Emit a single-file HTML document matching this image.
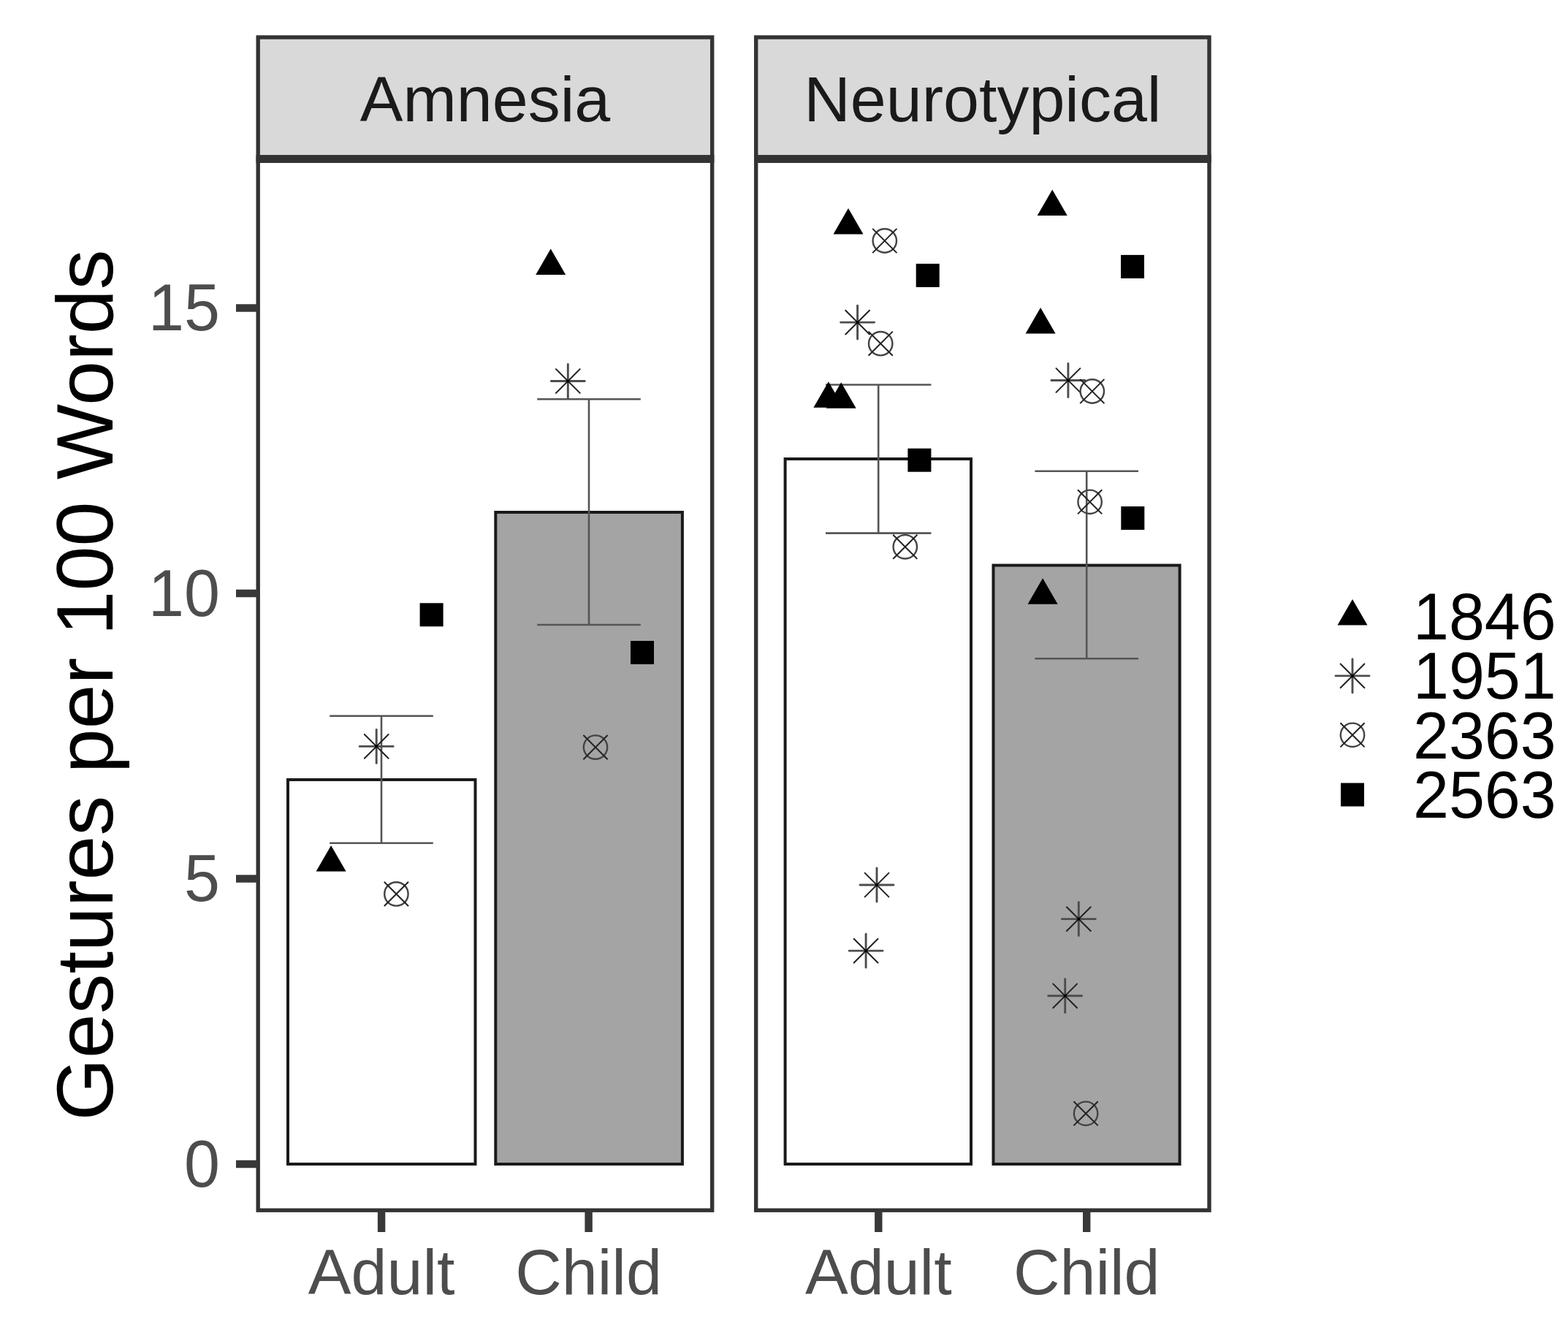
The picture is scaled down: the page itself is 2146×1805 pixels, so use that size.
<!DOCTYPE html>
<html><head><meta charset="utf-8"><title>Gestures per 100 Words</title>
<style>html,body{margin:0;padding:0;background:#fff;}svg{display:block;}</style></head>
<body>
<svg width="2146" height="1805" viewBox="0 0 2146 1805">
<rect width="2146" height="1805" fill="#fff"/>
<rect x="353.2" y="51.0" width="621.50" height="163.90" fill="#d9d9d9" stroke="#333" stroke-width="5.4"/>
<text x="663.95" y="166" font-family='"Liberation Sans", sans-serif' font-size="88" fill="#1a1a1a" text-anchor="middle">Amnesia</text>
<rect x="1034.7" y="51.0" width="620.30" height="163.90" fill="#d9d9d9" stroke="#333" stroke-width="5.4"/>
<text x="1344.85" y="166" font-family='"Liberation Sans", sans-serif' font-size="88" fill="#1a1a1a" text-anchor="middle">Neurotypical</text>
<rect x="353.2" y="220.2" width="621.50" height="1436.00" fill="#fff"/>
<rect x="1034.7" y="220.2" width="620.30" height="1436.00" fill="#fff"/>
<rect x="394.0" y="1067.0" width="256.50" height="526.00" fill="#fff" stroke="#1a1a1a" stroke-width="4.0"/>
<rect x="678.3" y="701.0" width="255.60" height="892.00" fill="#a4a4a4" stroke="#1a1a1a" stroke-width="4.0"/>
<rect x="1074.6" y="628.0" width="254.40" height="965.00" fill="#fff" stroke="#1a1a1a" stroke-width="4.0"/>
<rect x="1359.5" y="773.6" width="255.10" height="819.40" fill="#a4a4a4" stroke="#1a1a1a" stroke-width="4.0"/>
<path d="M451.20 979.8H592.80M522.0 979.8V1153.7M451.20 1153.7H592.80M735.20 546.2H876.80M806.0 546.2V855.0M735.20 855.0H876.80M1130.00 526.5H1274.40M1202.2 526.5V729.6M1130.00 729.6H1274.40M1416.40 644.7H1558.00M1487.2 644.7V901.2M1416.40 901.2H1558.00" fill="none" stroke="#555" stroke-width="2.6"/>
<g fill="#000"><polygon points="453.10,1157.03 473.60,1192.53 432.60,1192.53"/><polygon points="753.70,340.43 774.20,375.93 733.20,375.93"/><polygon points="1161.00,285.03 1181.50,320.53 1140.50,320.53"/><polygon points="1133.90,522.13 1154.40,557.63 1113.40,557.63"/><polygon points="1151.20,523.33 1171.70,558.83 1130.70,558.83"/><polygon points="1440.20,259.53 1460.70,295.03 1419.70,295.03"/><polygon points="1424.10,421.03 1444.60,456.53 1403.60,456.53"/><polygon points="1427.10,791.13 1447.60,826.63 1406.60,826.63"/><rect x="574.60" y="825.30" width="32.0" height="32.0"/><rect x="863.00" y="877.00" width="32.0" height="32.0"/><rect x="1253.70" y="360.90" width="32.0" height="32.0"/><rect x="1242.40" y="613.70" width="32.0" height="32.0"/><rect x="1534.00" y="348.90" width="32.0" height="32.0"/><rect x="1534.30" y="693.00" width="32.0" height="32.0"/></g>
<g fill="none" stroke="#222" stroke-width="2.0" stroke-linecap="round"><path stroke="#4d4d4d" stroke-width="2.9" d="M492.20 1021.40H538.20M515.20 998.40V1044.40"/><path d="M498.80 1005.00L531.60 1037.80M498.80 1037.80L531.60 1005.00"/><rect x="513.40" y="1019.60" width="3.6" height="3.6" fill="#000" stroke="none"/><path stroke="#4d4d4d" stroke-width="2.9" d="M754.30 521.50H800.30M777.30 498.50V544.50"/><path d="M760.90 505.10L793.70 537.90M760.90 537.90L793.70 505.10"/><rect x="775.50" y="519.70" width="3.6" height="3.6" fill="#000" stroke="none"/><path stroke="#4d4d4d" stroke-width="2.9" d="M1150.60 441.10H1196.60M1173.60 418.10V464.10"/><path d="M1157.20 424.70L1190.00 457.50M1157.20 457.50L1190.00 424.70"/><rect x="1171.80" y="439.30" width="3.6" height="3.6" fill="#000" stroke="none"/><path stroke="#4d4d4d" stroke-width="2.9" d="M1177.00 1211.00H1223.00M1200.00 1188.00V1234.00"/><path d="M1183.60 1194.60L1216.40 1227.40M1183.60 1227.40L1216.40 1194.60"/><rect x="1198.20" y="1209.20" width="3.6" height="3.6" fill="#000" stroke="none"/><path stroke="#4d4d4d" stroke-width="2.9" d="M1162.10 1301.10H1208.10M1185.10 1278.10V1324.10"/><path d="M1168.70 1284.70L1201.50 1317.50M1168.70 1317.50L1201.50 1284.70"/><rect x="1183.30" y="1299.30" width="3.6" height="3.6" fill="#000" stroke="none"/><path stroke="#4d4d4d" stroke-width="2.9" d="M1438.90 520.50H1484.90M1461.90 497.50V543.50"/><path d="M1445.50 504.10L1478.30 536.90M1445.50 536.90L1478.30 504.10"/><rect x="1460.10" y="518.70" width="3.6" height="3.6" fill="#000" stroke="none"/><path stroke="#4d4d4d" stroke-width="2.9" d="M1453.30 1257.60H1499.30M1476.30 1234.60V1280.60"/><path d="M1459.90 1241.20L1492.70 1274.00M1459.90 1274.00L1492.70 1241.20"/><rect x="1474.50" y="1255.80" width="3.6" height="3.6" fill="#000" stroke="none"/><path stroke="#4d4d4d" stroke-width="2.9" d="M1434.70 1362.80H1480.70M1457.70 1339.80V1385.80"/><path d="M1441.30 1346.40L1474.10 1379.20M1441.30 1379.20L1474.10 1346.40"/><rect x="1455.90" y="1361.00" width="3.6" height="3.6" fill="#000" stroke="none"/></g>
<g fill="none" stroke="#222" stroke-width="2.0"><circle cx="542.40" cy="1223.40" r="16.20" stroke="#444" stroke-width="2.4"/><path d="M525.80 1206.80L559.00 1240.00M525.80 1240.00L559.00 1206.80"/><circle cx="815.00" cy="1022.60" r="16.20" stroke="#444" stroke-width="2.4"/><path d="M798.40 1006.00L831.60 1039.20M798.40 1039.20L831.60 1006.00"/><circle cx="1210.80" cy="329.50" r="16.20" stroke="#444" stroke-width="2.4"/><path d="M1194.20 312.90L1227.40 346.10M1194.20 346.10L1227.40 312.90"/><circle cx="1205.20" cy="470.20" r="16.20" stroke="#444" stroke-width="2.4"/><path d="M1188.60 453.60L1221.80 486.80M1188.60 486.80L1221.80 453.60"/><circle cx="1238.80" cy="748.30" r="16.20" stroke="#444" stroke-width="2.4"/><path d="M1222.20 731.70L1255.40 764.90M1222.20 764.90L1255.40 731.70"/><circle cx="1494.80" cy="535.50" r="16.20" stroke="#444" stroke-width="2.4"/><path d="M1478.20 518.90L1511.40 552.10M1478.20 552.10L1511.40 518.90"/><circle cx="1491.60" cy="686.80" r="16.20" stroke="#444" stroke-width="2.4"/><path d="M1475.00 670.20L1508.20 703.40M1475.00 703.40L1508.20 670.20"/><circle cx="1486.10" cy="1523.80" r="16.20" stroke="#444" stroke-width="2.4"/><path d="M1469.50 1507.20L1502.70 1540.40M1469.50 1540.40L1502.70 1507.20"/></g>
<rect x="353.2" y="220.2" width="621.50" height="1436.00" fill="none" stroke="#333" stroke-width="5.4"/>
<rect x="350.50" y="212.20" width="626.90" height="10.70" fill="#333"/>
<rect x="1034.7" y="220.2" width="620.30" height="1436.00" fill="none" stroke="#333" stroke-width="5.4"/>
<rect x="1032.00" y="212.20" width="625.70" height="10.70" fill="#333"/>
<text transform="translate(301,1623.80) scale(1,1.04)" font-family='"Liberation Sans", sans-serif' font-size="88" fill="#4d4d4d" text-anchor="end">0</text>
<text transform="translate(301,1233.30) scale(1,1.04)" font-family='"Liberation Sans", sans-serif' font-size="88" fill="#4d4d4d" text-anchor="end">5</text>
<text transform="translate(301,842.80) scale(1,1.04)" font-family='"Liberation Sans", sans-serif' font-size="88" fill="#4d4d4d" text-anchor="end">10</text>
<text transform="translate(301,452.30) scale(1,1.04)" font-family='"Liberation Sans", sans-serif' font-size="88" fill="#4d4d4d" text-anchor="end">15</text>
<path d="M323 1593.00H353.20M323 1202.50H353.20M323 812.00H353.20M323 421.50H353.20M522.1 1656.20V1686M805.6 1656.20V1686M1202.3 1656.20V1686M1487.2 1656.20V1686" stroke="#383838" stroke-width="10.4" fill="none"/>
<text x="522.1" y="1770.6" font-family='"Liberation Sans", sans-serif' font-size="88" fill="#4d4d4d" text-anchor="middle">Adult</text>
<text x="805.6" y="1770.6" font-family='"Liberation Sans", sans-serif' font-size="88" fill="#4d4d4d" text-anchor="middle">Child</text>
<text x="1202.3" y="1770.6" font-family='"Liberation Sans", sans-serif' font-size="88" fill="#4d4d4d" text-anchor="middle">Adult</text>
<text x="1487.2" y="1770.6" font-family='"Liberation Sans", sans-serif' font-size="88" fill="#4d4d4d" text-anchor="middle">Child</text>
<text transform="translate(154,937.5) rotate(-90)" x="0" y="0" font-family='"Liberation Sans", sans-serif' font-size="109.6" fill="#000" text-anchor="middle">Gestures per 100 Words</text>
<g fill="#000"><polygon points="1851.00,820.03 1871.50,855.53 1830.50,855.53"/><rect x="1835.00" y="1071.50" width="32.0" height="32.0"/></g>
<g fill="none" stroke="#222" stroke-width="2.0" stroke-linecap="round"><path stroke="#4d4d4d" stroke-width="2.9" d="M1828.00 924.90H1874.00M1851.00 901.90V947.90"/><path d="M1834.60 908.50L1867.40 941.30M1834.60 941.30L1867.40 908.50"/><rect x="1849.20" y="923.10" width="3.6" height="3.6" fill="#000" stroke="none"/></g>
<g fill="none" stroke="#222" stroke-width="2.0"><circle cx="1851.00" cy="1005.80" r="16.20" stroke="#444" stroke-width="2.4"/><path d="M1834.40 989.20L1867.60 1022.40M1834.40 1022.40L1867.60 989.20"/></g>
<text transform="translate(1934,875.30) scale(1,1.04)" font-family='"Liberation Sans", sans-serif' font-size="88" fill="#000">1846</text>
<text transform="translate(1934,955.80) scale(1,1.04)" font-family='"Liberation Sans", sans-serif' font-size="88" fill="#000">1951</text>
<text transform="translate(1934,1037.70) scale(1,1.04)" font-family='"Liberation Sans", sans-serif' font-size="88" fill="#000">2363</text>
<text transform="translate(1934,1118.70) scale(1,1.04)" font-family='"Liberation Sans", sans-serif' font-size="88" fill="#000">2563</text>
</svg>
</body></html>
